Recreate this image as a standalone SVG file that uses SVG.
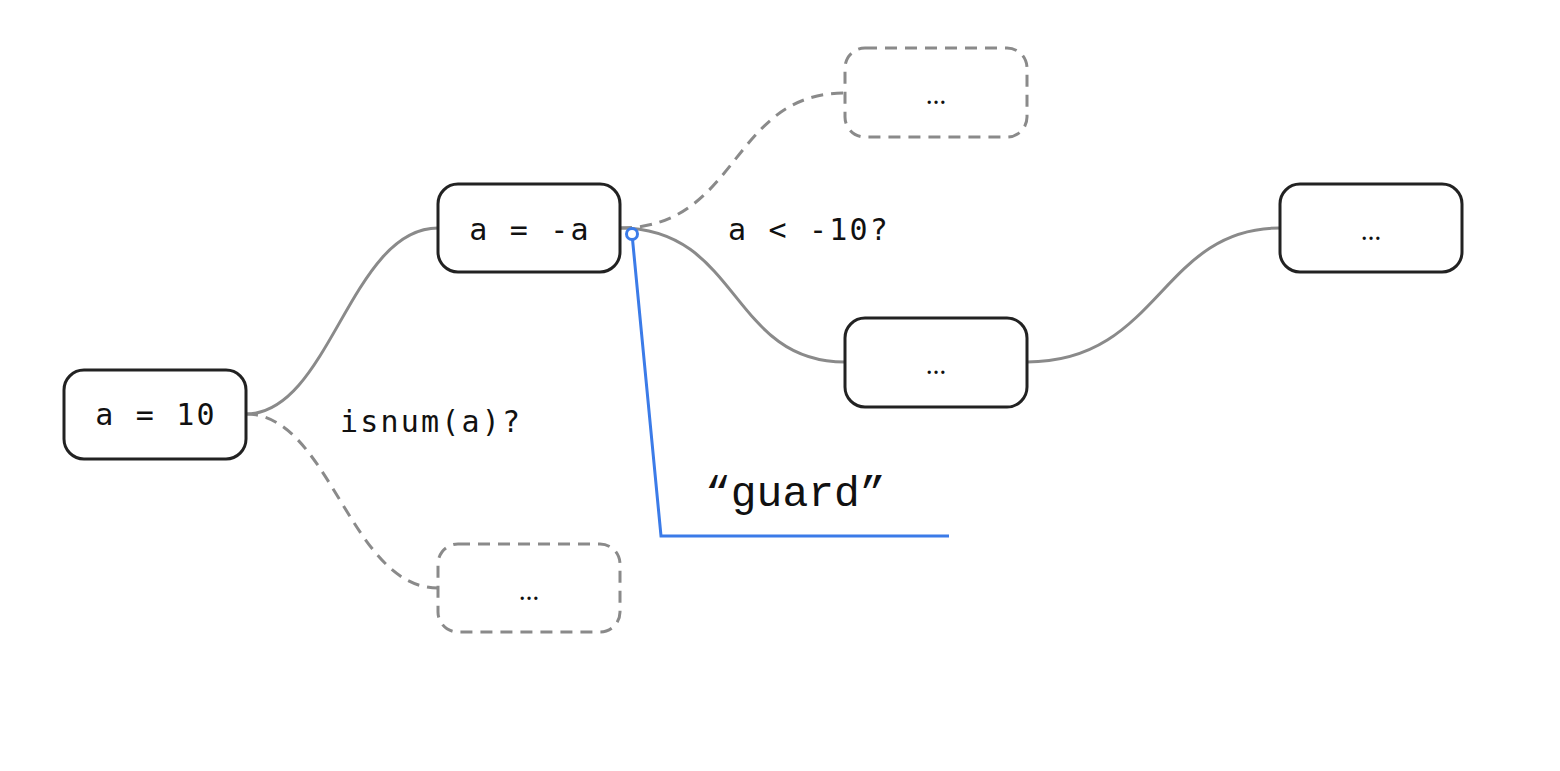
<svg xmlns="http://www.w3.org/2000/svg" width="1560" height="771" viewBox="0 0 1560 771">
<style>
.n{fill:#fff;stroke:#222;stroke-width:3}
.d{fill:#fff;stroke:#8a8a8a;stroke-width:3;stroke-dasharray:12 8}
.t{font-family:"DejaVu Sans Mono",monospace;font-size:30px;letter-spacing:2.2px;fill:#111;text-anchor:middle}
.e{font-family:"Noto Sans",sans-serif;font-size:26px;fill:#111;text-anchor:middle}
.l{font-family:"DejaVu Sans Mono",monospace;font-size:30px;letter-spacing:2.2px;fill:#111}
.c{fill:none;stroke:#8a8a8a;stroke-width:3}
.cd{fill:none;stroke:#8a8a8a;stroke-width:3;stroke-dasharray:12 8}
</style>
<rect width="1560" height="771" fill="#fff"/>
<g id="connectors">
<path class="c" d="M246,414 C330,414 350,228 438,228"/>
<path class="cd" d="M246,414 C330,414 350,588 438,588"/>
<path class="cd" d="M620,228 C740,228 730,93 845,93"/>
<path class="c" d="M620,228 C740,228 730,362 845,362"/>
<path class="c" d="M1027,362 C1160,362 1160,228 1280,228"/>
<text class="l" x="340" y="432">isnum(a)?</text>
<text class="l" x="728" y="240">a &lt; -10?</text>
</g>
<g id="n1"><rect class="n" x="64" y="370" width="182" height="89" rx="20"/><text class="t" x="156" y="425">a = 10</text></g>
<g id="n2"><rect class="n" x="438" y="184" width="182" height="88" rx="20"/><text class="t" x="530" y="240">a = -a</text></g>
<g id="n3"><rect class="d" x="845" y="48" width="182" height="89" rx="20"/><text class="e" x="936" y="104">…</text></g>
<g id="n4"><rect class="n" x="845" y="318" width="182" height="89" rx="20"/><text class="e" x="936" y="374">…</text></g>
<g id="n5"><rect class="n" x="1280" y="184" width="182" height="88" rx="20"/><text class="e" x="1371" y="240">…</text></g>
<g id="n6"><rect class="d" x="438" y="544" width="182" height="88" rx="20"/><text class="e" x="529" y="600">…</text></g>
<g id="guard">
<polyline points="632,234 661,536 949,536" fill="none" stroke="#3b7be8" stroke-width="3"/>
<circle cx="632" cy="234" r="5.5" fill="#fff" stroke="#3b7be8" stroke-width="3"/>
<text x="705" y="506" font-family="Liberation Mono,monospace" font-size="43" fill="#111">“guard”</text>
</g>
</svg>
